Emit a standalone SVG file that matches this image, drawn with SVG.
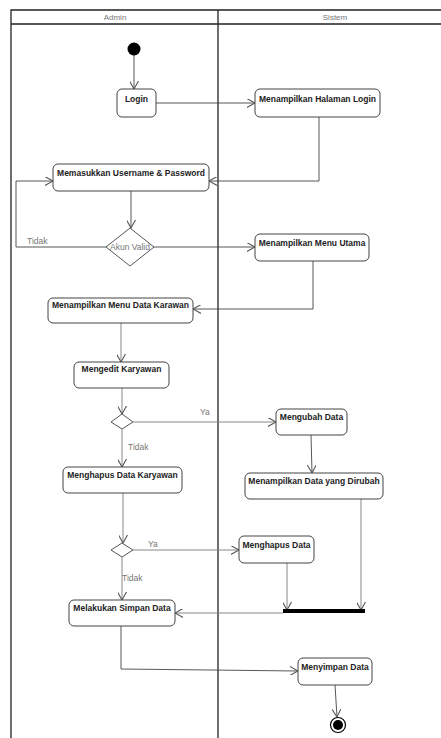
<svg xmlns="http://www.w3.org/2000/svg" width="441" height="738" viewBox="0 0 441 738">
<style>
.lane{fill:none;stroke:#222;stroke-width:1.3}
.hdr{font-family:"Liberation Sans",Arial,sans-serif;font-size:8px;fill:#777;text-anchor:middle}
.box{fill:#fff;stroke:#444;stroke-width:1}
.t{font-family:"Liberation Sans",Arial,sans-serif;font-size:8.5px;font-weight:bold;fill:#222;text-anchor:middle}
.lbl{font-family:"Liberation Sans",Arial,sans-serif;font-size:8.5px;fill:#777}
.c{fill:none;stroke:#444;stroke-width:0.9;marker-end:url(#a)}
.cg{fill:none;stroke:#888;stroke-width:1;marker-end:url(#a)}
.dia{fill:#fff;stroke:#555;stroke-width:1}
</style>
<defs>
<marker id="a" viewBox="0 0 10 10" refX="9" refY="5" markerWidth="9" markerHeight="9" markerUnits="userSpaceOnUse" orient="auto">
<path d="M0,0 L9,5 L0,10" fill="none" stroke="#555" stroke-width="1.2"/>
</marker>
</defs>
<rect width="441" height="738" fill="#fff"/>
<g id="lanes">
<path class="lane" d="M11,738 V10 H441 M11,24 H441 M218,10 V738"/>
<text class="hdr" x="115" y="20">Admin</text>
<text class="hdr" x="335" y="20">Sistem</text>
</g>
<g id="connectors">
<path class="c" d="M134,55 V89"/>
<path class="c" d="M156,103 H255"/>
<path class="c" d="M319,117 V181 H209"/>
<path class="c" d="M131,191 V228"/>
<path class="c" d="M106,247 H16 V181 H53"/>
<text class="lbl" x="27" y="244">Tidak</text>
<path class="c" d="M154,247 H255"/>
<path class="c" d="M313,261 V309 H193"/>
<path class="cg" d="M121,323 V362"/>
<path class="cg" d="M122,388 V414"/>
<path class="cg" d="M133,422 H276"/>
<text class="lbl" x="200" y="415">Ya</text>
<path class="c" d="M311,435 L312,473"/>
<path class="cg" d="M122,429 V467"/>
<text class="lbl" x="128" y="450">Tidak</text>
<path class="cg" d="M123,493 V543"/>
<path class="cg" d="M133,550 H239"/>
<text class="lbl" x="148" y="547">Ya</text>
<path class="cg" d="M122,557 V600"/>
<text class="lbl" x="122" y="581">Tidak</text>
<path class="cg" d="M287,563 V610"/>
<path class="cg" d="M361,499 V610"/>
<path class="cg" d="M283,613 H175"/>
<path class="c" d="M121,626 V669 L298,671"/>
<path class="c" d="M335,685 L337,717"/>
</g>
<g id="start"><circle cx="134" cy="49" r="6.5" fill="#000"/></g>
<g id="login"><rect class="box" x="117" y="89" width="39" height="28" rx="5"/><text class="t" x="136.5" y="102">Login</text></g>
<g id="halamanLogin"><rect class="box" x="255" y="89" width="125" height="28" rx="5"/><text class="t" x="317.5" y="102">Menampilkan Halaman Login</text></g>
<g id="memasukkan"><rect class="box" x="53" y="164" width="156" height="27" rx="5"/><text class="t" x="131" y="176">Memasukkan Username &amp; Password</text></g>
<g id="akunValid"><path class="dia" d="M130,228 L154,247 L130,266 L106,247 Z"/><text class="lbl" x="130" y="250" text-anchor="middle">Akun Valid</text></g>
<g id="menuUtama"><rect class="box" x="255" y="234" width="114" height="27" rx="5"/><text class="t" x="312" y="246">Menampilkan Menu Utama</text></g>
<g id="menuData"><rect class="box" x="48" y="298" width="145" height="25" rx="5"/><text class="t" x="120.5" y="308">Menampilkan Menu Data Karawan</text></g>
<g id="mengedit"><rect class="box" x="74" y="362" width="95" height="26" rx="5"/><text class="t" x="121.5" y="372">Mengedit Karyawan</text></g>
<g id="dec1"><path class="dia" d="M122,414 L133,422 L122,429 L111,422 Z"/></g>
<g id="mengubah"><rect class="box" x="276" y="409" width="71" height="26" rx="5"/><text class="t" x="311.5" y="420">Mengubah Data</text></g>
<g id="dirubah"><rect class="box" x="245" y="473" width="138" height="26" rx="5"/><text class="t" x="314" y="484">Menampilkan Data yang Dirubah</text></g>
<g id="menghapusKaryawan"><rect class="box" x="63" y="467" width="119" height="26" rx="5"/><text class="t" x="122.5" y="478">Menghapus Data Karyawan</text></g>
<g id="dec2"><path class="dia" d="M122,543 L133,550 L122,557 L111,550 Z"/></g>
<g id="menghapus"><rect class="box" x="239" y="536" width="75" height="27" rx="5"/><text class="t" x="276.5" y="548">Menghapus Data</text></g>
<g id="bar"><rect x="283" y="609" width="82" height="4" fill="#000"/></g>
<g id="simpan"><rect class="box" x="69" y="600" width="106" height="26" rx="5"/><text class="t" x="122" y="611">Melakukan Simpan Data</text></g>
<g id="menyimpan"><rect class="box" x="298" y="658" width="74" height="27" rx="5"/><text class="t" x="335" y="670">Menyimpan Data</text></g>
<g id="end"><circle cx="338" cy="725" r="7.5" fill="#fff" stroke="#000" stroke-width="1.2"/><circle cx="338" cy="725" r="5" fill="#000"/></g>
</svg>
